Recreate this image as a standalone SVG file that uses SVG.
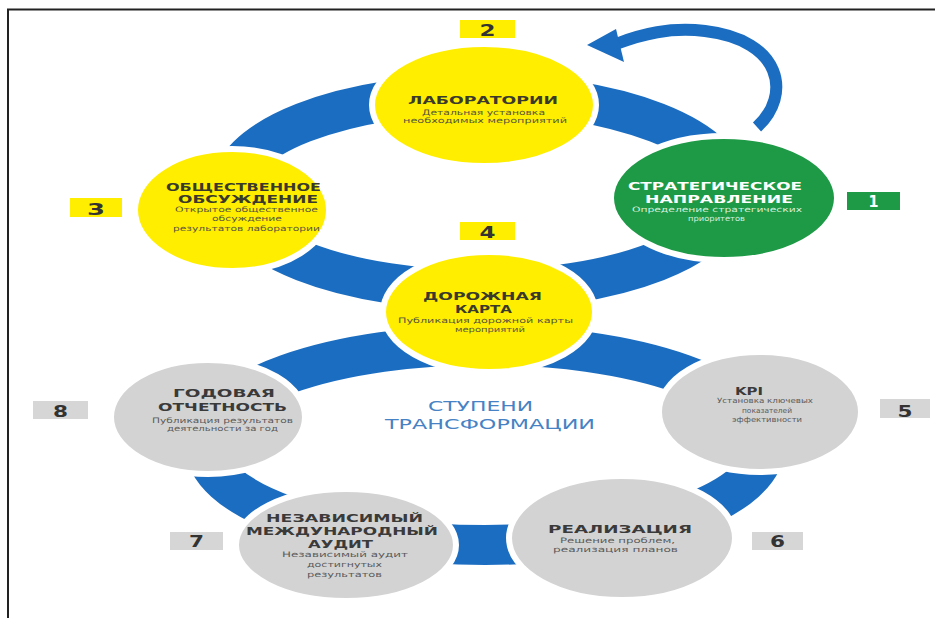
<svg xmlns="http://www.w3.org/2000/svg" width="935" height="618" viewBox="0 0 935 618">
<style>
.ring{fill:none;stroke:#1B6DC1;stroke-width:40}
.arc{fill:none;stroke:#1B6DC1;stroke-width:12}
.yel{fill:#FFEE00;stroke:#fff;stroke-width:6}
.grn{fill:#1E9A47;stroke:#fff;stroke-width:6}
.gry{fill:#D3D3D3;stroke:#fff;stroke-width:6}
.by{fill:#FFEE00}.bg{fill:#1E9A47}.bgr{fill:#D6D6D6}
.t{font-family:"DejaVu Sans","Liberation Sans",sans-serif;font-weight:bold;fill:#3A3A2C;font-size:11px}
.s{font-family:"DejaVu Sans","Liberation Sans",sans-serif;fill:#55553F;font-size:7.5px}
.tw{font-family:"DejaVu Sans","Liberation Sans",sans-serif;font-weight:bold;fill:#fff;font-size:11px}
.sw{font-family:"DejaVu Sans","Liberation Sans",sans-serif;fill:#D8F0DE;font-size:7.5px}
.tg{font-family:"DejaVu Sans","Liberation Sans",sans-serif;font-weight:bold;fill:#3A3A3A;font-size:11px}
.sg{font-family:"DejaVu Sans","Liberation Sans",sans-serif;fill:#5A5A5A;font-size:7.5px}
.n{font-family:"DejaVu Sans","Liberation Sans",sans-serif;font-weight:bold;fill:#333;font-size:16px;text-anchor:middle}
.c{font-family:"DejaVu Sans","Liberation Sans",sans-serif;fill:#4682C4;font-size:14.5px}
</style>
<rect x="0" y="0" width="935" height="618" fill="#fff"/>
<path d="M8 618 V9.5 H935" fill="none" stroke="#222" stroke-width="2"/>
<g id="connectors">
<ellipse class="ring" cx="480" cy="192" rx="250" ry="98"/>
<ellipse class="ring" cx="485" cy="445" rx="280" ry="100"/>
<path class="arc" d="M757 127 C792 95 782 40 705 31 C670 27 642 34 616 44"/>
<polygon points="587,45 616,29 624,62" fill="#1B6DC1"/>
</g>
<g id="node1">
<ellipse class="grn" cx="724" cy="198" rx="113" ry="62"/>
<text class="tw" x="628" y="190" textLength="174" lengthAdjust="spacingAndGlyphs">СТРАТЕГИЧЕСКОЕ</text>
<text class="tw" x="645" y="203" textLength="148" lengthAdjust="spacingAndGlyphs">НАПРАВЛЕНИЕ</text>
<text class="sw" x="632" y="212" textLength="170" lengthAdjust="spacingAndGlyphs">Определение стратегических</text>
<text class="sw" x="688" y="221" textLength="57" lengthAdjust="spacingAndGlyphs">приоритетов</text>
<rect class="bg" x="847" y="192" width="53" height="18"/>
<text class="n" x="873.5" y="207" style="fill:#fff" textLength="10" lengthAdjust="spacingAndGlyphs">1</text>
</g>
<g id="node2">
<ellipse class="yel" cx="484" cy="105" rx="112" ry="61"/>
<text class="t" x="408" y="104" style="font-size:10.5px" textLength="150" lengthAdjust="spacingAndGlyphs">ЛАБОРАТОРИИ</text>
<text class="s" x="422" y="115" textLength="123" lengthAdjust="spacingAndGlyphs">Детальная установка</text>
<text class="s" x="403" y="123" textLength="164" lengthAdjust="spacingAndGlyphs">необходимых мероприятий</text>
<rect class="by" x="460" y="20" width="55" height="18"/>
<text class="n" x="487.5" y="36" textLength="16" lengthAdjust="spacingAndGlyphs">2</text>
</g>
<g id="node3">
<ellipse class="yel" cx="232" cy="210" rx="97" ry="61"/>
<text class="t" x="166" y="191" textLength="155" lengthAdjust="spacingAndGlyphs">ОБЩЕСТВЕННОЕ</text>
<text class="t" x="178" y="203" textLength="140" lengthAdjust="spacingAndGlyphs">ОБСУЖДЕНИЕ</text>
<text class="s" x="175" y="212" textLength="143" lengthAdjust="spacingAndGlyphs">Открытое общественное</text>
<text class="s" x="212" y="221" textLength="70" lengthAdjust="spacingAndGlyphs">обсуждение</text>
<text class="s" x="173" y="231" textLength="147" lengthAdjust="spacingAndGlyphs">результатов лаборатории</text>
<rect class="by" x="70" y="198" width="52" height="19"/>
<text class="n" x="96" y="215" textLength="18" lengthAdjust="spacingAndGlyphs">3</text>
</g>
<g id="node4">
<ellipse class="yel" cx="489" cy="312" rx="106" ry="60"/>
<text class="t" x="423" y="300" textLength="119" lengthAdjust="spacingAndGlyphs">ДОРОЖНАЯ</text>
<text class="t" x="455" y="313" textLength="57" lengthAdjust="spacingAndGlyphs">КАРТА</text>
<text class="s" x="398" y="323" textLength="175" lengthAdjust="spacingAndGlyphs">Публикация дорожной карты</text>
<text class="s" x="455" y="332" textLength="70" lengthAdjust="spacingAndGlyphs">мероприятий</text>
<rect class="by" x="460" y="222" width="55" height="18"/>
<text class="n" x="487.5" y="238" textLength="16" lengthAdjust="spacingAndGlyphs">4</text>
</g>
<g id="node5">
<ellipse class="gry" cx="760" cy="412" rx="101" ry="60"/>
<text class="tg" x="735" y="395" style="font-size:10.5px" textLength="28" lengthAdjust="spacingAndGlyphs">KPI</text>
<text class="sg" x="717" y="403" style="font-size:7.2px" textLength="96" lengthAdjust="spacingAndGlyphs">Установка ключевых</text>
<text class="sg" x="742" y="413" style="font-size:7.2px" textLength="50" lengthAdjust="spacingAndGlyphs">показателей</text>
<text class="sg" x="732" y="422" style="font-size:7.2px" textLength="70" lengthAdjust="spacingAndGlyphs">эффективности</text>
<rect class="bgr" x="880" y="399" width="50" height="19"/>
<text class="n" x="905" y="417" textLength="15" lengthAdjust="spacingAndGlyphs">5</text>
</g>
<g id="node6">
<ellipse class="gry" cx="622" cy="538" rx="113" ry="62"/>
<text class="tg" x="548" y="533" textLength="144" lengthAdjust="spacingAndGlyphs">РЕАЛИЗАЦИЯ</text>
<text class="sg" x="560" y="543" textLength="115" lengthAdjust="spacingAndGlyphs">Решение проблем,</text>
<text class="sg" x="553" y="552" textLength="125" lengthAdjust="spacingAndGlyphs">реализация планов</text>
<rect class="bgr" x="752" y="532" width="51" height="18"/>
<text class="n" x="777.5" y="547" textLength="15" lengthAdjust="spacingAndGlyphs">6</text>
</g>
<g id="node7">
<ellipse class="gry" cx="346" cy="545" rx="110" ry="56"/>
<text class="tg" x="266" y="522" textLength="157" lengthAdjust="spacingAndGlyphs">НЕЗАВИСИМЫЙ</text>
<text class="tg" x="246" y="535" textLength="192" lengthAdjust="spacingAndGlyphs">МЕЖДУНАРОДНЫЙ</text>
<text class="tg" x="308" y="548" textLength="65" lengthAdjust="spacingAndGlyphs">АУДИТ</text>
<text class="sg" x="282" y="557" textLength="126" lengthAdjust="spacingAndGlyphs">Независимый аудит</text>
<text class="sg" x="307" y="567" textLength="75" lengthAdjust="spacingAndGlyphs">достигнутых</text>
<text class="sg" x="307" y="577" textLength="75" lengthAdjust="spacingAndGlyphs">результатов</text>
<rect class="bgr" x="170" y="532" width="53" height="18"/>
<text class="n" x="196.5" y="547" textLength="15" lengthAdjust="spacingAndGlyphs">7</text>
</g>
<g id="node8">
<ellipse class="gry" cx="208" cy="417" rx="97" ry="57"/>
<text class="tg" x="173" y="397" textLength="102" lengthAdjust="spacingAndGlyphs">ГОДОВАЯ</text>
<text class="tg" x="158" y="411" textLength="129" lengthAdjust="spacingAndGlyphs">ОТЧЕТНОСТЬ</text>
<text class="sg" x="152" y="423" textLength="141" lengthAdjust="spacingAndGlyphs">Публикация результатов</text>
<text class="sg" x="167" y="431" textLength="111" lengthAdjust="spacingAndGlyphs">деятельности за год</text>
<rect class="bgr" x="33" y="401" width="55" height="18"/>
<text class="n" x="60.5" y="417" textLength="15" lengthAdjust="spacingAndGlyphs">8</text>
</g>
<g id="title">
<text class="c" x="428" y="411" textLength="105" lengthAdjust="spacingAndGlyphs">СТУПЕНИ</text>
<text class="c" x="385" y="429" textLength="210" lengthAdjust="spacingAndGlyphs">ТРАНСФОРМАЦИИ</text>
</g>
</svg>
